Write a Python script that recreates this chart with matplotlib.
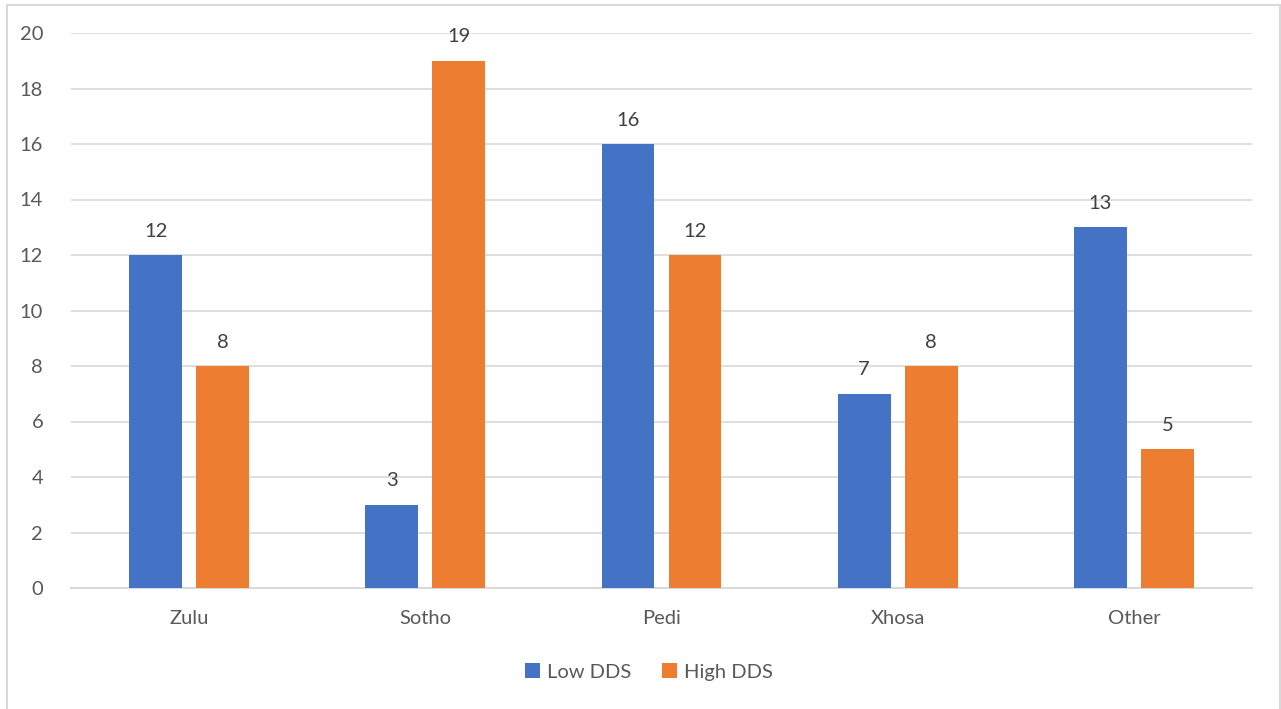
import matplotlib.pyplot as plt
import numpy as np
from matplotlib.patches import Rectangle

plt.rcParams.update({
    "font.family": ["Lato", "DejaVu Sans"],
    "font.size": 14.5,
})

groups = ["Zulu", "Sotho", "Pedi", "Xhosa", "Other"]
low_dds = [12, 3, 16, 7, 13]
high_dds = [8, 19, 12, 8, 5]
series_names = ["Low DDS", "High DDS"]
yticks = [0, 2, 4, 6, 8, 10, 12, 14, 16, 18, 20]

blue = "#4472C4"
orange = "#ED7D31"
text_color = "#595959"
grid_color = "#D9D9D9"

fig = plt.figure(figsize=(12.81, 7.09), dpi=100)
ax = fig.add_axes([71 / 1281, 1 - 588 / 709, (1252 - 71) / 1281, (588 - 33) / 709])

# outer chart frame
fig.patches.append(Rectangle((7 / 1281, -0.05), (1280 - 7) / 1281, 1.05 - 5 / 709,
                             transform=fig.transFigure, fill=False,
                             edgecolor=grid_color, linewidth=1.5))

x = np.arange(len(groups))
width = 0.224
offset = 0.142

b1 = ax.bar(x - offset, low_dds, width, color=blue, label=series_names[0], zorder=3)
b2 = ax.bar(x + offset, high_dds, width, color=orange, label=series_names[1], zorder=3)

for bars in (b1, b2):
    for bar in bars:
        h = bar.get_height()
        ax.annotate(f"{h:g}", (bar.get_x() + bar.get_width() / 2, h),
                    xytext=(0, 11), textcoords="offset points",
                    ha="center", va="bottom", color="#404040", fontsize=14.5)

ax.set_xlim(-0.5, len(groups) - 0.5)
ax.set_ylim(0, 20)
ax.set_yticks(yticks)
ax.set_xticks(x)
ax.set_xticklabels(groups)
ax.yaxis.grid(True, color=grid_color, linewidth=1.2, zorder=0)
ax.set_axisbelow(True)

for side in ("top", "right", "left"):
    ax.spines[side].set_visible(False)
ax.spines["bottom"].set_color(grid_color)
ax.spines["bottom"].set_linewidth(1.5)

ax.tick_params(axis="both", length=0, colors=text_color, labelsize=14.5)
ax.tick_params(axis="y", pad=20)
ax.tick_params(axis="x", pad=16)

fig.legend(handles=[b1, b2], loc="center", bbox_to_anchor=(649 / 1281, 1 - 672 / 709),
           ncol=2, frameon=False, handlelength=0.75, handleheight=0.75,
           handletextpad=0.35, columnspacing=1.5, labelcolor=text_color, fontsize=14.5)

fig.savefig("out.png", dpi=100, facecolor="white")
